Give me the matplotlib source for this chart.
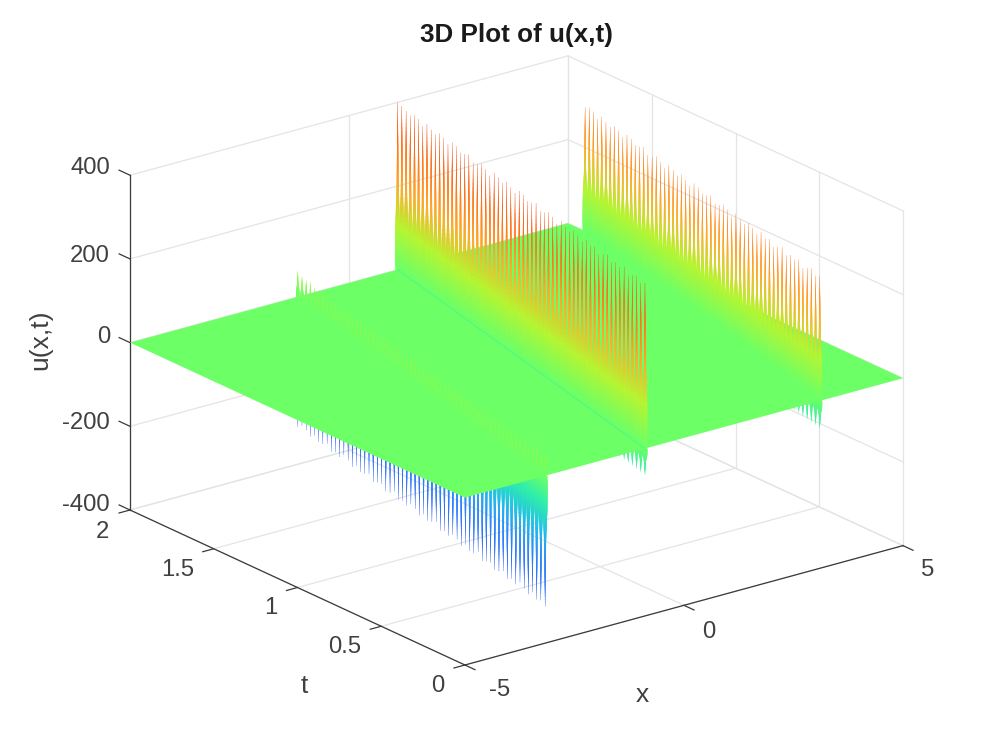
import numpy as np
import matplotlib
matplotlib.use('Agg')
import matplotlib.pyplot as plt
from matplotlib.colors import LinearSegmentedColormap, Normalize
from mpl_toolkits.mplot3d import proj3d
from mpl_toolkits.mplot3d.art3d import Line3DCollection

plt.rcParams['font.family'] = ['Liberation Sans', 'DejaVu Sans']

# Axis ticks
x_ticks = [-5, 0, 5]
t_ticks = [0, 0.5, 1, 1.5, 2]
z_ticks = [-400, -200, 0, 200, 400]

# Time of each tooth in the combs
tooth_t = [0.000, 0.034, 0.068, 0.102, 0.136, 0.169, 0.203, 0.237, 0.271, 0.305,
           0.339, 0.373, 0.407, 0.441, 0.475, 0.508, 0.542, 0.576, 0.610, 0.644,
           0.678, 0.712, 0.746, 0.780, 0.814, 0.847, 0.881, 0.915, 0.949, 0.983,
           1.017, 1.051, 1.085, 1.119, 1.153, 1.186, 1.220, 1.254, 1.288, 1.322,
           1.356, 1.390, 1.424, 1.458, 1.492, 1.525, 1.559, 1.593, 1.627, 1.661,
           1.695, 1.729, 1.763, 1.797, 1.831, 1.864, 1.898, 1.932, 1.966, 2.000]

# Ridge positions
ridge_a_x = [-3.170, -3.136, -3.102, -3.068, -3.034, -3.001, -2.967, -2.933, -2.899, -2.865,
             -2.831, -2.797, -2.763, -2.729, -2.695, -2.662, -2.628, -2.594, -2.560, -2.526,
             -2.492, -2.458, -2.424, -2.390, -2.356, -2.323, -2.289, -2.255, -2.221, -2.187,
             -2.153, -2.119, -2.085, -2.051, -2.017, -1.984, -1.950, -1.916, -1.882, -1.848,
             -1.814, -1.780, -1.746, -1.712, -1.678, -1.645, -1.611, -1.577, -1.543, -1.509,
             -1.475, -1.441, -1.407, -1.373, -1.339, -1.306, -1.272, -1.238, -1.204, -1.170]
ridge_b_x = [-0.890, -0.856, -0.822, -0.788, -0.754, -0.721, -0.687, -0.653, -0.619, -0.585,
             -0.551, -0.517, -0.483, -0.449, -0.415, -0.382, -0.348, -0.314, -0.280, -0.246,
             -0.212, -0.178, -0.144, -0.110, -0.076, -0.043, -0.009, 0.025, 0.059, 0.093,
             0.127, 0.161, 0.195, 0.229, 0.263, 0.296, 0.330, 0.364, 0.398, 0.432,
             0.466, 0.500, 0.534, 0.568, 0.602, 0.635, 0.669, 0.703, 0.737, 0.771,
             0.805, 0.839, 0.873, 0.907, 0.941, 0.974, 1.008, 1.042, 1.076, 1.110]
ridge_c_x = [3.100, 3.134, 3.168, 3.202, 3.236, 3.269, 3.303, 3.337, 3.371, 3.405,
             3.439, 3.473, 3.507, 3.541, 3.575, 3.608, 3.642, 3.676, 3.710, 3.744,
             3.778, 3.812, 3.846, 3.880, 3.914, 3.947, 3.981, 4.015, 4.049, 4.083,
             4.117, 4.151, 4.185, 4.219, 4.253, 4.286, 4.320, 4.354, 4.388, 4.422,
             4.456, 4.490, 4.524, 4.558, 4.592, 4.625, 4.659, 4.693, 4.727, 4.761,
             4.795, 4.829, 4.863, 4.897, 4.931, 4.964, 4.998]

# Peak height of each tooth
ridge_a_down = [-312, -305, -310, -300, -312, -306, -298, -310, -304, -312,
                -300, -308, -312, -302, -306, -312, -298, -308, -310, -302,
                -312, -304, -300, -310, -306, -312, -298, -306, -310, -302,
                -312, -304, -300, -310, -306, -310, -298, -308, -312, -302,
                -306, -312, -300, -306, -310, -302, -312, -304, -298, -310,
                -306, -312, -300, -308, -310, -302, -312, -304, -300, -310]
ridge_a_up = [52, 48, 54, 50, 46, 54, 50, 48, 55, 50,
              46, 54, 50, 48, 54, 50, 46, 55, 50, 48,
              54, 50, 46, 54, 50, 48, 55, 50, 46, 54,
              50, 48, 54, 50, 46, 55, 50, 48, 54, 50,
              46, 54, 50, 48, 55, 50, 46, 54, 50, 48,
              54, 52, 48, 56, 52, 50, 58, 54, 56, 62]
ridge_b_up = [396, 388, 398, 392, 384, 398, 390, 394, 386, 398,
              392, 384, 396, 390, 398, 386, 394, 398, 388, 392,
              398, 384, 394, 398, 390, 386, 398, 392, 388, 396,
              398, 386, 392, 398, 388, 394, 398, 384, 392, 398,
              390, 386, 398, 392, 388, 396, 398, 386, 394, 398,
              388, 392, 398, 386, 396, 398, 390, 394, 398, 400]
ridge_c_up = [298, 292, 302, 296, 288, 302, 294, 298, 290, 302,
              296, 288, 300, 294, 302, 290, 298, 302, 292, 296,
              302, 288, 298, 302, 294, 290, 302, 296, 292, 300,
              302, 290, 296, 302, 292, 298, 302, 288, 296, 302,
              294, 290, 302, 296, 292, 300, 302, 290, 298, 302,
              292, 296, 302, 290, 300, 302, 296]
ridge_b_down = [-62] * 60
ridge_c_down = [-64] * 57

# Colours of the surface by height
color_z = [-400, -310, -200, -130, -60, 0, 100, 200, 300, 400]
color_hex = ['#2030d0', '#2a58ee', '#2f86ff', '#22c0e8', '#30f0a8', '#6cff66',
             '#b6f532', '#ffa82c', '#ff6f18', '#ee4a1e']
norm = Normalize(-400, 400)
cmap = LinearSegmentedColormap.from_list(
    'surf', [(norm(z), c) for z, c in zip(color_z, color_hex)], N=512)

# Tooth width in pixels, by fraction of the tooth height
width_frac = [0, 0.22, 0.45, 0.7, 0.88, 1]
width_px = [5, 4.6, 2.0, 1.2, 0.3, 0.03]
n_slices = 40
slice_overlap = 3

GRID = '#e4e4e4'
DARK = '#3a3a3a'
TEXT = '#404040'

fig = plt.figure(figsize=(9.97, 7.47), dpi=100)
ax = fig.add_subplot(projection='3d', proj_type='ortho', computed_zorder=False)
# MATLAB default view, the picture is squashed a bit vertically
ax.view_init(elev=20.8, azim=-127.5)
ax.set_box_aspect((552, 550, 358))
ax.set_axis_off()
ax.patch.set_alpha(0)


def add_comb(ridge_x, peaks, zorder, thin=1.0):
    segs, cols, widths = [], [], []
    for x, t, peak in zip(ridge_x, tooth_t, peaks):
        # every point of a tooth is covered by the same number of slices, no dotted look
        for i in range(n_slices):
            f0 = i / n_slices
            f1 = min((i + slice_overlap) / n_slices, 1)
            segs.append([(x, t, peak * f0), (x, t, peak * f1)])
            cols.append(cmap(norm(peak * f0)))
            widths.append(np.interp(f0, width_frac, width_px) * 0.72 * thin)
    comb = Line3DCollection(segs, colors=cols, linewidths=widths, zorder=zorder, capstyle='butt')
    comb.set_snap(False)
    ax.add_collection3d(comb, autolim=False)


# Back walls and floor grid
for z in z_ticks:
    ax.plot([-5, 5], [2, 2], [z, z], color=GRID, lw=0.9, zorder=1)
    ax.plot([5, 5], [0, 2], [z, z], color=GRID, lw=0.9, zorder=1)
for x in x_ticks:
    ax.plot([x, x], [0, 2], [-400, -400], color=GRID, lw=0.9, zorder=1)
    ax.plot([x, x], [2, 2], [-400, 400], color=GRID, lw=0.9, zorder=1)
for t in t_ticks:
    ax.plot([-5, 5], [t, t], [-400, -400], color=GRID, lw=0.9, zorder=1)
    ax.plot([5, 5], [t, t], [-400, 400], color=GRID, lw=0.9, zorder=1)

# Axis lines and ticks
ax.plot([-5, -5], [2, 2], [-400, 400], color=DARK, lw=0.9, zorder=2)
ax.plot([-5, -5], [0, 2], [-400, -400], color=DARK, lw=0.9, zorder=2)
ax.plot([-5, 5], [0, 0], [-400, -400], color=DARK, lw=0.9, zorder=2)
for x in x_ticks:
    ax.plot([x, x], [0, -0.06], [-400, -400], color=DARK, lw=0.9, zorder=2)
for t in t_ticks:
    ax.plot([-5, -5.25], [t, t], [-400, -400], color=DARK, lw=0.9, zorder=2)
for z in z_ticks:
    ax.plot([-5, -5], [2, 2.065], [z, z], color=DARK, lw=0.9, zorder=2)

# Downward teeth go under the flat part of the surface
add_comb(ridge_a_x, ridge_a_down, 3)
add_comb(ridge_b_x, ridge_b_down, 3)
add_comb(ridge_c_x, ridge_c_down, 3)

ground_x, ground_t = np.meshgrid([-5, 5], [0, 2])
ax.plot_surface(ground_x, ground_t, np.zeros_like(ground_x, dtype=float),
                color=cmap(norm(0)), shade=False, linewidth=0, antialiased=True, zorder=4)

# Upward teeth, back to front
add_comb(ridge_c_x, ridge_c_up, 5)
add_comb(ridge_b_x, ridge_b_up, 6)
ax.plot(ridge_b_x, tooth_t, np.zeros(len(tooth_t)), color=cmap(norm(-28)), lw=0.8, zorder=6)
add_comb(ridge_a_x, ridge_a_up, 7, thin=0.7)

ax.set_xlim(-5, 5, view_margin=0)
ax.set_ylim(0, 2, view_margin=0)
ax.set_zlim(-400, 400, view_margin=0)

# Move the axes so the floor corners land where they are in the picture
ax.set_position([0.1, 0.1, 0.6, 0.6 * 997 / 747])
ax.apply_aspect()


def to_px(x, t, z):
    xp, yp, _ = proj3d.proj_transform(x, t, z, ax.get_proj())
    return ax.transData.transform((xp, yp))


p_left = to_px(-5, 2, -400)
p_right = to_px(5, 0, -400)
box = ax.get_position()
old_l, old_b, side = box.x0 * 997, box.y0 * 747, box.width * 997
scale = (903 - 130) / (p_right[0] - p_left[0])
new_l = 130 - scale * (p_left[0] - old_l)
new_b = (747 - 510) - scale * (p_left[1] - old_b)
ax.set_position([new_l / 997, new_b / 747, side * scale / 997, side * scale / 747])


def label(px, py, s, ha='center', **kw):
    kw.setdefault('fontsize', 17.2)
    kw.setdefault('color', TEXT)
    fig.text(px / 997, 1 - py / 747, s, ha=ha, va='center', **kw)


for py, s in zip([168, 256, 337, 423, 505], ['400', '200', '0', '-200', '-400']):
    label(110, py, s, ha='right')
for px, py, s in zip([102, 178, 271, 345, 438], [532, 570, 608, 647, 686], ['2', '1.5', '1', '0.5', '0']):
    label(px, py, s)
for px, py, s in zip([500, 709, 928], [690, 632, 570], ['-5', '0', '5']):
    label(px, py, s)
label(304, 686, 't', fontsize=19)
label(642, 695, 'x', fontsize=19)
label(40, 340, 'u(x,t)', rotation=90, fontsize=19)
label(516, 35, '3D Plot of u(x,t)', fontsize=18.7, fontweight='bold', color='#1a1a1a')

fig.savefig('out.png', dpi=100)
